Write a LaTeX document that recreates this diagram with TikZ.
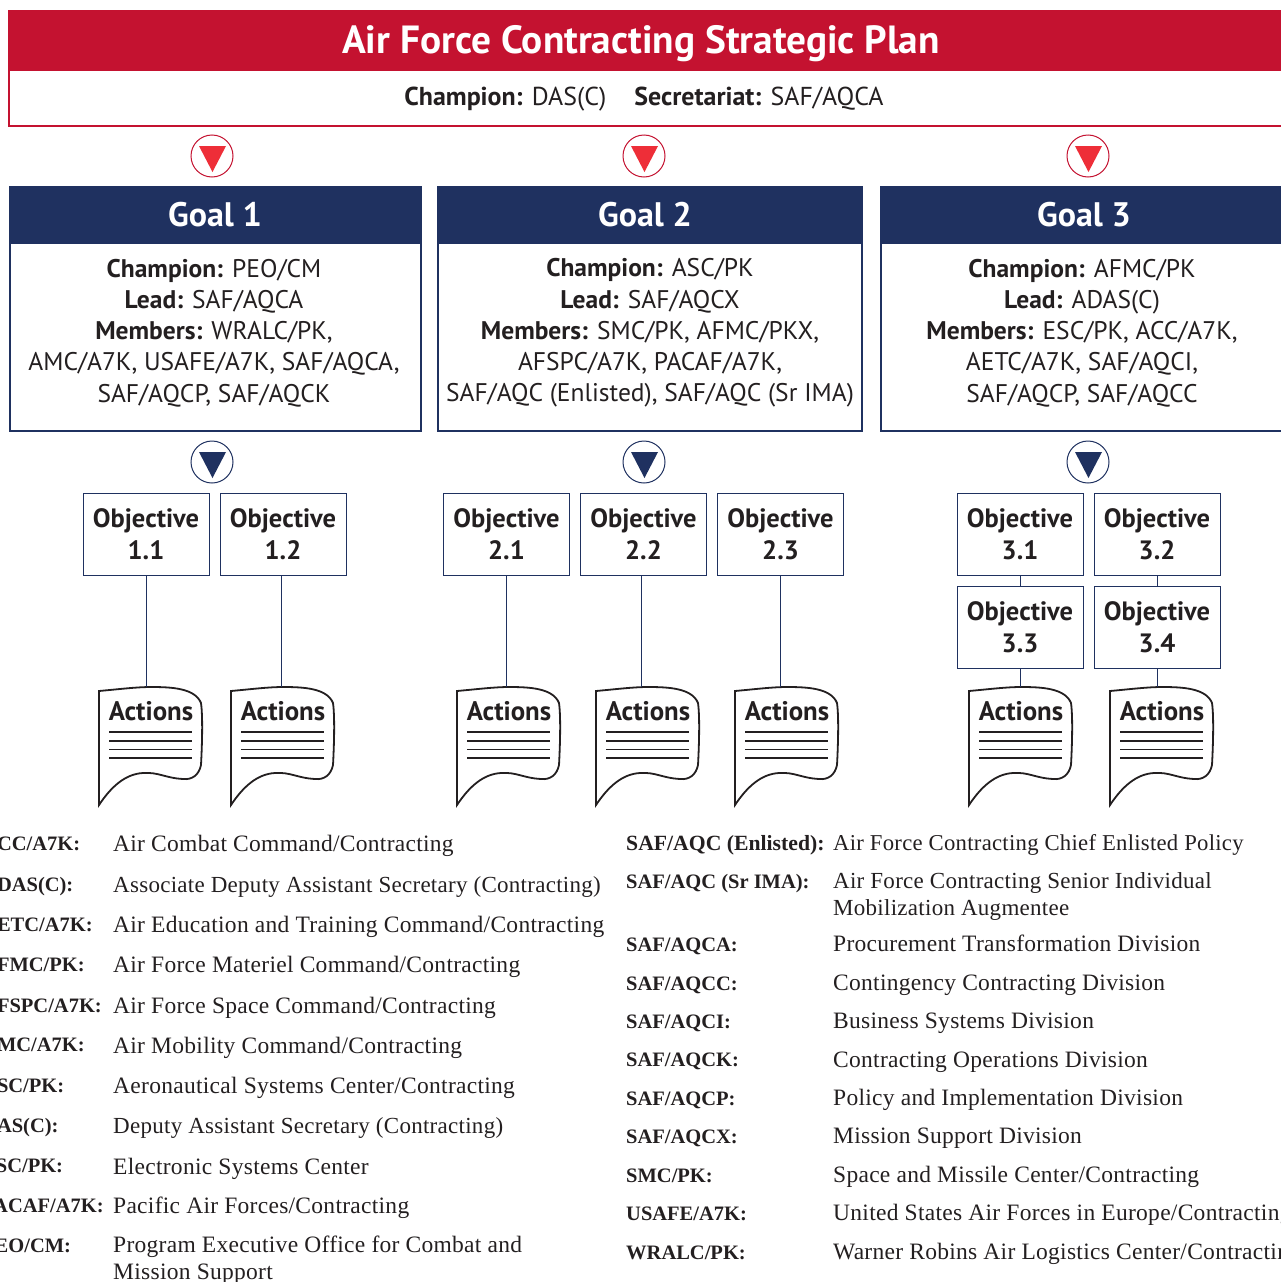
\documentclass[tikz,border=0pt]{standalone}
\usepackage{fontspec}
\setmainfont{PT Sans}
\newfontfamily\legendfont[LetterSpace=1.2]{Liberation Serif}
\newfontfamily\abbrfont{Liberation Serif}
\usepackage{xcolor}
\usetikzlibrary{shapes.geometric}
\definecolor{afred}{HTML}{C41230}
\definecolor{afbright}{HTML}{EE2E38}
\definecolor{afnavy}{HTML}{1F3160}
\definecolor{aftext}{HTML}{231F20}
\tikzstyle{goalhead} = [fill=afnavy,draw=afnavy,line width=1pt]
\tikzstyle{goalbody} = [draw=afnavy,line width=1.8pt,fill=white]
\tikzstyle{objbox} = [draw=afnavy,line width=0.9pt,text=aftext,minimum width=126pt,minimum height=82pt,inner sep=0pt,align=center,font=\fontsize{26.5}{32}\selectfont\bfseries]
\tikzstyle{objline} = [draw=afnavy,line width=0.9pt]
\tikzstyle{goaltext} = [text=white,inner sep=0pt,font=\fontsize{34}{36}\selectfont\bfseries]
\tikzstyle{membertext} = [text=aftext,inner sep=0pt,align=center,font=\fontsize{25.5}{31.2}\selectfont]
\tikzstyle{circlenode} = [circle,fill=white,minimum size=42pt,inner sep=0pt,line width=1pt]
\tikzstyle{abbr} = [anchor=base west,inner sep=0pt,text=aftext,font=\fontsize{20.5}{26}\abbrfont\bfseries]
\tikzstyle{descr} = [anchor=base west,inner sep=0pt,text=aftext,align=left,font=\fontsize{23.5}{26.5}\legendfont]
\tikzstyle{descrtight} = [descr,font=\fontsize{23}{26.5}\legendfont]
% one sheet of actions: #1 name, #2 left x, top of the sheet is y=687
\newcommand{\actionsheet}[2]{
  \begin{scope}[shift={(#2,687)}]
    \draw[aftext,line width=1.8pt,line join=miter,fill=white] (0,4) .. controls (22,2) and (38,0) .. (52,0)
      .. controls (72,0) and (96,1) .. (102,16) .. controls (104,30) and (103,60) .. (102,78)
      .. controls (100,88) and (93,93) .. (84,92) .. controls (66,91) and (60,85) .. (44,86)
      .. controls (26,87) and (12,100) .. (0,118) -- cycle;
    \node[inner sep=0pt,text=aftext,font=\fontsize{26.8}{30}\selectfont\bfseries] (#1) at (52,24) {Actions};
    \draw[aftext,line width=1.3pt] (10,45) -- (93,45);
    \draw[aftext,line width=1.3pt] (10,54) -- (93,54);
    \draw[aftext,line width=1.3pt] (10,62.5) -- (93,62.5);
    \draw[aftext,line width=1.3pt] (10,71) -- (93,71);
  \end{scope}
}
\begin{document}
\begin{tikzpicture}[x=1pt,y=-1pt]
  \useasboundingbox (0,0) rectangle (1280,1282);
  % plan title
  \draw[afred,line width=1.8pt,fill=white] (9,70) rectangle (1300,126);
  \fill[afred] (8,9.5) rectangle (1300,70);
  \node[inner sep=0pt,text=white,font=\fontsize{39.3}{42}\selectfont\bfseries] (plantitle) at (641,44) {Air Force Contracting Strategic Plan};
  \node[inner sep=0pt,text=aftext,font=\fontsize{25.9}{30}\selectfont] (planleads) at (644,99) {\textbf{Champion:} DAS(C)\hspace{28pt}\textbf{Secretariat:} SAF/AQCA};
  % down markers
  \node[circlenode,draw=afred] (red1) at (212,156) {};
  \node[circlenode,draw=afred] (red2) at (644,156) {};
  \node[circlenode,draw=afred] (red3) at (1088,156) {};
  \node[circlenode,draw=afnavy] (blue1) at (212,462) {};
  \node[circlenode,draw=afnavy] (blue2) at (644,462) {};
  \node[circlenode,draw=afnavy] (blue3) at (1088,462) {};
  \fill[afbright] (199,146) -- (226,146) -- (212.5,172) -- cycle;
  \fill[afbright] (631,146) -- (658,146) -- (644.5,172) -- cycle;
  \fill[afbright] (1075,146) -- (1102,146) -- (1088.5,172) -- cycle;
  \fill[afnavy] (199,452) -- (226,452) -- (212.5,478) -- cycle;
  \fill[afnavy] (631,452) -- (658,452) -- (644.5,478) -- cycle;
  \fill[afnavy] (1075,452) -- (1102,452) -- (1088.5,478) -- cycle;
  % goals
  \draw[goalbody] (10,243) rectangle (421,431);
  \draw[goalbody] (438,243) rectangle (862,431);
  \draw[goalbody] (881,243) rectangle (1300,431);
  \draw[goalhead] (9.5,186.5) rectangle (421.5,243);
  \draw[goalhead] (437,186.5) rectangle (862.5,243);
  \draw[goalhead] (880,186.5) rectangle (1300,243);
  \node[goaltext] (goal1) at (215,215) {Goal 1};
  \node[goaltext] (goal2) at (645,215) {Goal 2};
  \node[goaltext] (goal3) at (1084,215) {Goal 3};
  \node[membertext] (members1) at (214,333) {\textbf{Champion:} PEO/CM\\\textbf{Lead:} SAF/AQCA\\\textbf{Members:} WRALC/PK,\\AMC/A7K, USAFE/A7K, SAF/AQCA,\\SAF/AQCP, SAF/AQCK};
  \node[membertext] (members2) at (650,333) {\textbf{Champion:} ASC/PK\\\textbf{Lead:} SAF/AQCX\\\textbf{Members:} SMC/PK, AFMC/PKX,\\AFSPC/A7K, PACAF/A7K,\\SAF/AQC (Enlisted), SAF/AQC (Sr IMA)};
  \node[membertext] (members3) at (1082,333) {\textbf{Champion:} AFMC/PK\\\textbf{Lead:} ADAS(C)\\\textbf{Members:} ESC/PK, ACC/A7K,\\AETC/A7K, SAF/AQCI,\\SAF/AQCP, SAF/AQCC};
  % objectives
  \node[objbox] (obj11) at (146,534) {Objective\\1.1};
  \node[objbox] (obj12) at (283,534) {Objective\\1.2};
  \node[objbox] (obj21) at (506.5,534) {Objective\\2.1};
  \node[objbox] (obj22) at (643.5,534) {Objective\\2.2};
  \node[objbox] (obj23) at (780.5,534) {Objective\\2.3};
  \node[objbox] (obj31) at (1020,534) {Objective\\3.1};
  \node[objbox] (obj32) at (1157,534) {Objective\\3.2};
  \node[objbox] (obj33) at (1020,627) {Objective\\3.3};
  \node[objbox] (obj34) at (1157,627) {Objective\\3.4};
  % actions
  \actionsheet{act11}{99}
  \actionsheet{act12}{231}
  \actionsheet{act21}{457}
  \actionsheet{act22}{596}
  \actionsheet{act23}{735}
  \actionsheet{act33}{969}
  \actionsheet{act34}{1110}
  \coordinate (top11) at (146,687);
  \coordinate (top12) at (281,687);
  \coordinate (top21) at (506,687);
  \coordinate (top22) at (641,687);
  \coordinate (top23) at (780,687);
  \coordinate (top33) at (1020,687);
  \coordinate (top34) at (1157,687);
  \draw[objline] (obj11.south) -- (top11);
  \draw[objline] (top12 |- obj12.south) -- (top12);
  \draw[objline] (top21 |- obj21.south) -- (top21);
  \draw[objline] (top22 |- obj22.south) -- (top22);
  \draw[objline] (top23 |- obj23.south) -- (top23);
  \draw[objline] (obj31.south) -- (obj33.north);
  \draw[objline] (obj32.south) -- (obj34.north);
  \draw[objline] (obj33.south) -- (top33);
  \draw[objline] (obj34.south) -- (top34);
  % legend, left column
  \node[abbr] (lab1) at (-18,850) {ACC/A7K:};
  \node[abbr] (lab2) at (-18,891) {ADAS(C):};
  \node[abbr] (lab3) at (-18,931) {AETC/A7K:};
  \node[abbr] (lab4) at (-18,971) {AFMC/PK:};
  \node[abbr] (lab5) at (-18,1012) {AFSPC/A7K:};
  \node[abbr] (lab6) at (-18,1051) {AMC/A7K:};
  \node[abbr] (lab7) at (-18,1092) {ASC/PK:};
  \node[abbr] (lab8) at (-18,1132) {DAS(C):};
  \node[abbr] (lab9) at (-18,1172) {ESC/PK:};
  \node[abbr] (lab10) at (-18,1212) {PACAF/A7K:};
  \node[abbr] (lab11) at (-18,1252) {PEO/CM:};
  \node[descr] (desc1) at (113,851) {Air Combat Command/Contracting};
  \node[descrtight] (desc2) at (113,892) {Associate Deputy Assistant Secretary (Contracting)};
  \node[descr] (desc3) at (113,932) {Air Education and Training Command/Contracting};
  \node[descr] (desc4) at (113,972) {Air Force Materiel Command/Contracting};
  \node[descr] (desc5) at (113,1013) {Air Force Space Command/Contracting};
  \node[descr] (desc6) at (113,1053) {Air Mobility Command/Contracting};
  \node[descr] (desc7) at (113,1093) {Aeronautical Systems Center/Contracting};
  \node[descrtight] (desc8) at (113,1133) {Deputy Assistant Secretary (Contracting)};
  \node[descr] (desc9) at (113,1174) {Electronic Systems Center};
  \node[descr] (desc10) at (113,1213) {Pacific Air Forces/Contracting};
  \node[descr] (desc11) at (113,1279) {Program Executive Office for Combat and\\Mission Support};
  % legend, right column
  \node[abbr,font=\fontsize{21.7}{26}\abbrfont\bfseries] (lab12) at (626,850) {SAF/AQC (Enlisted):};
  \node[abbr] (lab13) at (626,888) {SAF/AQC (Sr IMA):};
  \node[abbr] (lab14) at (626,951) {SAF/AQCA:};
  \node[abbr] (lab15) at (626,990) {SAF/AQCC:};
  \node[abbr] (lab16) at (626,1028) {SAF/AQCI:};
  \node[abbr] (lab17) at (626,1066) {SAF/AQCK:};
  \node[abbr] (lab18) at (626,1105) {SAF/AQCP:};
  \node[abbr] (lab19) at (626,1143) {SAF/AQCX:};
  \node[abbr] (lab20) at (626,1182) {SMC/PK:};
  \node[abbr] (lab21) at (626,1220) {USAFE/A7K:};
  \node[abbr] (lab22) at (626,1259) {WRALC/PK:};
  \node[descrtight,font=\fontsize{22.7}{26.5}\legendfont] (desc12) at (833,850) {Air Force Contracting Chief Enlisted Policy};
  \node[descrtight] (desc13) at (833,915) {Air Force Contracting Senior Individual\\Mobilization Augmentee};
  \node[descr] (desc14) at (833,951) {Procurement Transformation Division};
  \node[descr] (desc15) at (833,990) {Contingency Contracting Division};
  \node[descr] (desc16) at (833,1028) {Business Systems Division};
  \node[descr] (desc17) at (833,1067) {Contracting Operations Division};
  \node[descr] (desc18) at (833,1105) {Policy and Implementation Division};
  \node[descr] (desc19) at (833,1143) {Mission Support Division};
  \node[descr] (desc20) at (833,1182) {Space and Missile Center/Contracting};
  \node[descr] (desc21) at (833,1220) {United States Air Forces in Europe/Contracting};
  \node[descr] (desc22) at (833,1259) {Warner Robins Air Logistics Center/Contracting};
\end{tikzpicture}
\end{document}
